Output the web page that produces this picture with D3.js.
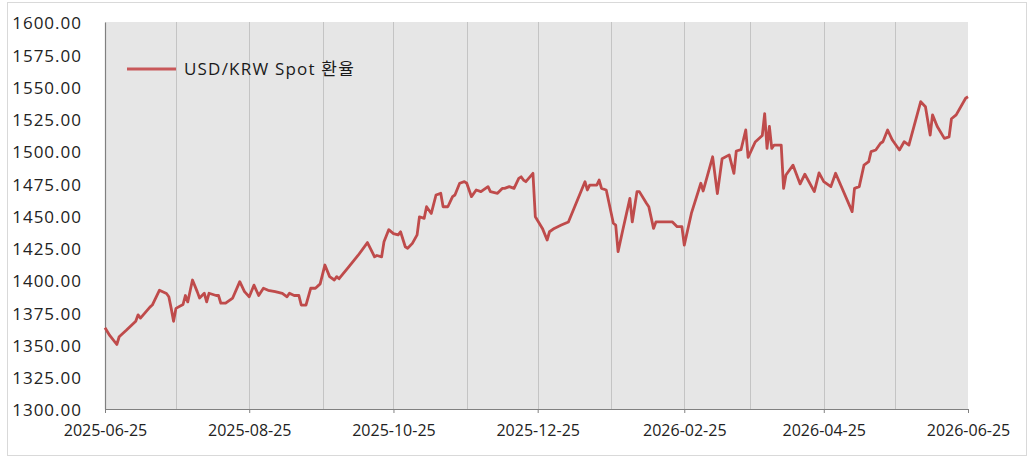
<!DOCTYPE html>
<html>
<head>
<meta charset="utf-8">
<script src="https://cdn.jsdelivr.net/npm/d3@7/dist/d3.min.js"></script>
<style>
  html, body { margin: 0; padding: 0; background: #ffffff; }
  svg { display: block; }
</style>
</head>
<body>
<svg id="chart" width="1033" height="458"></svg>
<script>
// USD/KRW spot rate, daily observations
const dates = [
  "2025-06-25","2025-06-27","2025-06-30","2025-07-01","2025-07-04","2025-07-08","2025-07-09","2025-07-10",
  "2025-07-14","2025-07-15","2025-07-18","2025-07-21","2025-07-22","2025-07-23","2025-07-24","2025-07-25",
  "2025-07-28","2025-07-29","2025-07-30","2025-08-01","2025-08-03","2025-08-04","2025-08-06","2025-08-07",
  "2025-08-08","2025-08-11","2025-08-12","2025-08-13","2025-08-15","2025-08-18","2025-08-21","2025-08-23",
  "2025-08-25","2025-08-27","2025-08-29","2025-08-31","2025-09-02","2025-09-05","2025-09-08","2025-09-10",
  "2025-09-11","2025-09-13","2025-09-15","2025-09-16","2025-09-18","2025-09-20","2025-09-22","2025-09-24",
  "2025-09-26","2025-09-28","2025-09-30","2025-10-01","2025-10-02","2025-10-06","2025-10-10","2025-10-14",
  "2025-10-17","2025-10-18","2025-10-20","2025-10-21","2025-10-23","2025-10-25","2025-10-27","2025-10-28",
  "2025-10-30","2025-10-31","2025-11-02","2025-11-04","2025-11-05","2025-11-07","2025-11-08","2025-11-10",
  "2025-11-12","2025-11-14","2025-11-15","2025-11-17","2025-11-19","2025-11-20","2025-11-22","2025-11-24",
  "2025-11-25","2025-11-27","2025-11-29","2025-12-01","2025-12-04","2025-12-05","2025-12-08","2025-12-10",
  "2025-12-11","2025-12-13","2025-12-15","2025-12-17","2025-12-18","2025-12-19","2025-12-20","2025-12-23",
  "2025-12-24","2025-12-27","2025-12-29","2025-12-30","2026-01-01","2026-01-04","2026-01-07","2026-01-14",
  "2026-01-15","2026-01-16","2026-01-19","2026-01-20","2026-01-21","2026-01-23","2026-01-26","2026-01-27",
  "2026-01-28","2026-01-30","2026-02-02","2026-02-03","2026-02-05","2026-02-06","2026-02-09","2026-02-10",
  "2026-02-12","2026-02-13","2026-02-20","2026-02-22","2026-02-24","2026-02-25","2026-02-28","2026-03-04",
  "2026-03-05","2026-03-09","2026-03-11","2026-03-13","2026-03-16","2026-03-18","2026-03-19","2026-03-21",
  "2026-03-23","2026-03-24","2026-03-27","2026-03-30","2026-03-31","2026-04-01","2026-04-02","2026-04-03",
  "2026-04-04","2026-04-07","2026-04-08","2026-04-09","2026-04-12","2026-04-15","2026-04-17","2026-04-21",
  "2026-04-23","2026-04-25","2026-04-28","2026-04-30","2026-05-07","2026-05-08","2026-05-10","2026-05-12",
  "2026-05-14","2026-05-15","2026-05-17","2026-05-19","2026-05-20","2026-05-22","2026-05-24","2026-05-27",
  "2026-05-29","2026-05-31","2026-06-05","2026-06-07","2026-06-09","2026-06-10","2026-06-12","2026-06-15",
  "2026-06-17","2026-06-18","2026-06-20","2026-06-24","2026-06-25"
];

const spotRate = [
  1363.0,1357.0,1350.0,1356.0,1361.0,1368.0,1373.0,1370.5,
  1379.0,1380.6,1392.0,1389.5,1387.0,1378.0,1368.0,1378.0,
  1381.0,1388.0,1383.0,1400.0,1391.0,1386.0,1389.7,1383.0,
  1389.7,1388.0,1388.0,1382.0,1382.0,1386.0,1398.7,1391.0,
  1387.0,1396.0,1388.0,1393.6,1392.0,1391.0,1389.7,1387.0,
  1389.7,1388.0,1388.0,1380.6,1380.6,1393.6,1393.6,1397.0,
  1411.6,1402.6,1400.0,1402.6,1401.0,1410.0,1419.0,1429.0,
  1418.0,1419.0,1418.0,1429.7,1439.0,1436.0,1435.0,1437.4,
  1425.8,1424.6,1428.4,1435.0,1449.0,1447.8,1456.8,1451.6,
  1465.9,1467.2,1456.8,1456.8,1464.6,1465.9,1475.0,1476.2,
  1475.0,1464.6,1469.8,1468.5,1472.4,1468.5,1467.2,1471.0,
  1471.0,1472.4,1471.0,1478.8,1480.0,1477.5,1476.2,1482.7,
  1449.0,1440.0,1431.0,1437.4,1440.0,1442.6,1445.0,1476.2,
  1469.8,1473.6,1473.6,1477.5,1471.0,1469.8,1444.0,1442.6,
  1422.0,1438.8,1463.3,1445.0,1468.5,1468.5,1459.5,1456.8,
  1440.0,1445.0,1445.0,1441.3,1441.3,1427.0,1451.6,1475.0,
  1469.0,1495.5,1467.0,1494.0,1497.0,1482.7,1500.0,1501.0,
  1516.3,1495.0,1507.0,1512.0,1529.0,1502.0,1519.0,1502.0,
  1504.6,1504.6,1471.0,1481.4,1489.0,1474.5,1482.0,1468.5,
  1483.0,1476.2,1472.4,1482.7,1453.0,1471.0,1472.4,1489.0,
  1491.7,1499.5,1500.8,1506.0,1507.2,1516.3,1508.5,1500.8,
  1507.2,1504.6,1538.2,1534.3,1512.4,1528.0,1519.0,1509.8,
  1511.0,1525.0,1528.0,1540.9,1542.0
];

const yTicks = [1300, 1325, 1350, 1375, 1400, 1425, 1450, 1475, 1500, 1525, 1550, 1575, 1600];
const xLabelDates = ["2025-06-25","2025-08-25","2025-10-25","2025-12-25","2026-02-25","2026-04-25","2026-06-25"];
const gridDates = ["2025-07-25","2025-08-25","2025-09-25","2025-10-25","2025-11-25","2025-12-25",
                   "2026-01-25","2026-02-25","2026-03-25","2026-04-25","2026-05-25"];
const seriesName = "USD/KRW Spot 환율";

const parse = d3.timeParse("%Y-%m-%d");
const fmtDate = d3.timeFormat("%Y-%m-%d");
const data = dates.map((d, i) => ({ date: parse(d), value: spotRate[i] }));

const svg = d3.select("#chart");
const W = 1033, H = 458;
const margin = { left: 105, right: 65, top: 22, bottom: 49 };
const plotW = W - margin.left - margin.right;
const plotH = H - margin.top - margin.bottom;
const FONT = "'Open Sans', 'Noto Sans CJK KR', sans-serif";

// outer frame
svg.append("rect")
  .attr("x", 7.5).attr("y", 2.5)
  .attr("width", 1019).attr("height", 453)
  .attr("fill", "#ffffff")
  .attr("stroke", "#d9d9d9").attr("stroke-width", 1);

const x = d3.scaleTime()
  .domain([parse("2025-06-25"), parse("2026-06-25")])
  .range([0, plotW]);
const y = d3.scaleLinear()
  .domain([1300, 1600])
  .range([plotH, 0]);

const g = svg.append("g").attr("transform", `translate(${margin.left},${margin.top})`);

// plot background
g.append("rect")
  .attr("width", plotW).attr("height", plotH)
  .attr("fill", "#e6e6e6");

// monthly vertical gridlines
g.append("g").selectAll("line")
  .data(gridDates.map(parse))
  .join("line")
  .attr("x1", d => Math.round(x(d)) + 0.5).attr("x2", d => Math.round(x(d)) + 0.5)
  .attr("y1", 0).attr("y2", plotH)
  .attr("stroke", "#c4c4c4").attr("stroke-width", 1);

// x axis
const xAxis = d3.axisBottom(x)
  .tickValues(xLabelDates.map(parse))
  .tickFormat(fmtDate)
  .tickSizeInner(4).tickSizeOuter(0).tickPadding(12);
const gx = g.append("g")
  .attr("transform", `translate(0,${plotH})`)
  .call(xAxis);
gx.select(".domain").attr("stroke", "#808080").attr("stroke-width", 1.2);
gx.selectAll(".tick line").attr("stroke", "#808080");
gx.selectAll(".tick text")
  .attr("fill", "#222222")
  .style("font-family", FONT)
  .style("font-size", "16px");

// y axis
const yAxis = d3.axisLeft(y)
  .tickValues(yTicks)
  .tickFormat(d3.format(".2f"))
  .tickSize(0).tickPadding(23);
const gy = g.append("g").call(yAxis);
gy.select(".domain").attr("stroke", "#808080").attr("stroke-width", 1.2);
gy.selectAll(".tick text")
  .attr("fill", "#222222")
  .attr("dy", "0.4em")
  .style("font-family", FONT)
  .style("font-size", "17px")
  .style("letter-spacing", "1px");

// series line
const line = d3.line()
  .x(d => x(d.date))
  .y(d => y(d.value));

g.append("path")
  .datum(data)
  .attr("fill", "none")
  .attr("stroke", "#bf4b4b")
  .attr("stroke-width", 2.8)
  .attr("stroke-linejoin", "round")
  .attr("d", line);

// legend
const lg = svg.append("g").attr("transform", "translate(127,69)");
lg.append("line")
  .attr("x1", 0).attr("x2", 49).attr("y1", 0).attr("y2", 0)
  .attr("stroke", "#c8585a").attr("stroke-width", 2.8);
lg.append("text")
  .attr("x", 57).attr("y", 0).attr("dy", "0.36em")
  .attr("fill", "#1a1a1a")
  .style("font-family", FONT)
  .style("font-size", "17px")
  .style("letter-spacing", "1.2px")
  .text(seriesName);
</script>
</body>
</html>
